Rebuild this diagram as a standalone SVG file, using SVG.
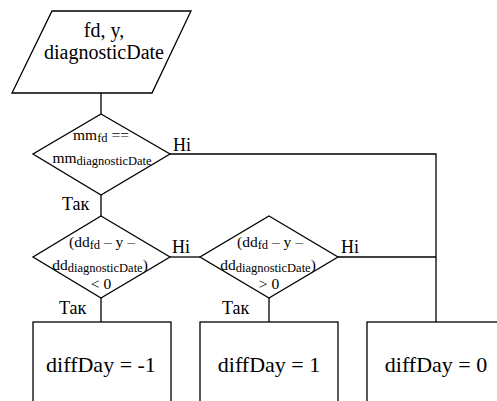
<svg xmlns="http://www.w3.org/2000/svg" width="497" height="401" viewBox="0 0 497 401" font-family="'Liberation Serif', 'Times New Roman', 'DejaVu Serif', serif">
<style>
.s{fill:#fff;stroke:#000;stroke-width:1.3}
.c{fill:none;stroke:#000;stroke-width:1.3}
.m{text-anchor:middle}
.lb{font-size:18px}
.cond{font-size:15.5px}
.sub{font-size:12.5px}
.big{font-size:22px}
</style>
<rect width="497" height="401" fill="#fff"/>
<g id="connectors">
<line class="c" x1="101" y1="93" x2="101" y2="114"/>
<polyline class="c" points="170,154 436,154 436,322"/>
<line class="c" x1="101" y1="195" x2="101" y2="216"/>
<line class="c" x1="170" y1="257" x2="200" y2="257"/>
<line class="c" x1="338" y1="257" x2="436" y2="257"/>
<line class="c" x1="101" y1="298" x2="101" y2="322"/>
<line class="c" x1="269" y1="298" x2="269" y2="322"/>
<text class="lb" x="173" y="151">Ні</text>
<text class="lb" x="62" y="210">Так</text>
<text class="lb" x="172" y="253">Ні</text>
<text class="lb" x="341" y="253">Ні</text>
<text class="lb" x="59" y="314">Так</text>
<text class="lb" x="222" y="314">Так</text>
</g>
<g id="input">
<polygon class="s" points="52,11 191,11 152,93 12,93"/>
<text class="m" x="104" y="37" font-size="20">fd, y,</text>
<text class="m" x="104" y="59" font-size="20">diagnosticDate</text>
</g>
<g id="cond1">
<polygon class="s" points="101,114 170,154 101,195 33,154"/>
<text class="m cond" x="101" y="140">mm<tspan class="sub" dy="2">fd</tspan><tspan dy="-2"> ==</tspan></text>
<text class="m cond" x="102" y="163">mm<tspan class="sub" dy="2">diagnosticDate</tspan></text>
</g>
<g id="cond2">
<polygon class="s" points="101,216 170,257 101,298 33,257"/>
<text class="m cond" x="102" y="247">(dd<tspan class="sub" dy="2">fd</tspan><tspan dy="-2"> – y –</tspan></text>
<text class="m cond" x="100" y="270">dd<tspan class="sub" dy="2">diagnosticDate</tspan><tspan dy="-2">)</tspan></text>
<text class="m cond" x="101" y="289">&lt; 0</text>
</g>
<g id="cond3">
<polygon class="s" points="269,216 338,257 269,298 200,257"/>
<text class="m cond" x="270" y="247">(dd<tspan class="sub" dy="2">fd</tspan><tspan dy="-2"> – y –</tspan></text>
<text class="m cond" x="268" y="270">dd<tspan class="sub" dy="2">diagnosticDate</tspan><tspan dy="-2">)</tspan></text>
<text class="m cond" x="269" y="289">&gt; 0</text>
</g>
<g id="box1">
<rect class="s" x="33" y="322" width="138" height="100"/>
<text class="m big" x="101" y="372">diffDay = -1</text>
</g>
<g id="box2">
<rect class="s" x="200" y="322" width="138" height="100"/>
<text class="m big" x="269" y="372">diffDay = 1</text>
</g>
<g id="box3">
<rect class="s" x="367" y="322" width="138" height="100"/>
<text class="m big" x="436" y="372">diffDay = 0</text>
</g>
</svg>
